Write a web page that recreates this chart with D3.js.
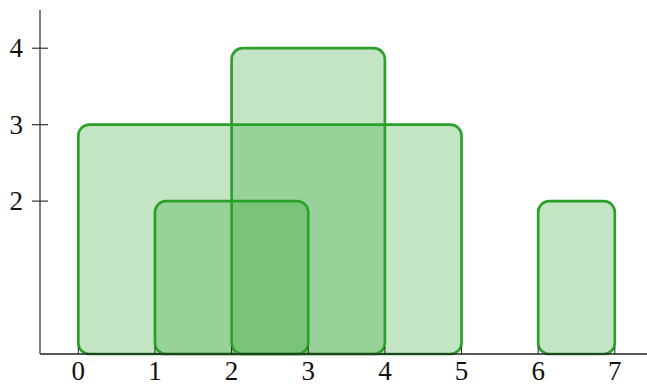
<!DOCTYPE html>
<html>
<head>
<meta charset="utf-8">
<script src="https://cdn.jsdelivr.net/npm/d3@7"></script>
<style>
  html, body { margin: 0; padding: 0; background: #fff; }
  svg { display: block; }
</style>
</head>
<body>
<svg id="chart" width="647" height="385"></svg>
<script>
// Interval bars: each spans [start, end] on x and rises to its height
const starts  = [0, 1, 2, 6];
const ends    = [5, 3, 4, 7];
const heights = [3, 2, 4, 2];
const xTicks = [0, 1, 2, 3, 4, 5, 6, 7];
const yTicks = [2, 3, 4];

const svg = d3.select("#chart");
const FONT = "'Liberation Serif', 'DejaVu Serif', serif";

const x = d3.scaleLinear().domain([-0.5, 7.42]).range([40, 647]);
const y = d3.scaleLinear().domain([0, 4.5]).range([354, 10]);

const green = "#2ca02c";

// Bars
const bars = starts.map((s, i) => ({ s, e: ends[i], h: heights[i] }));
svg.append("g").selectAll("rect")
  .data(bars)
  .join("rect")
  .attr("x", d => x(d.s))
  .attr("y", d => y(d.h))
  .attr("width", d => x(d.e) - x(d.s))
  .attr("height", d => y(0) - y(d.h))
  .attr("rx", 11).attr("ry", 11)
  .attr("fill", green).attr("fill-opacity", 0.28)
  .attr("stroke", green).attr("stroke-width", 2.7);

// Axes
const ax = svg.append("g");
ax.append("line")
  .attr("x1", x(-0.5)).attr("x2", 647)
  .attr("y1", y(0)).attr("y2", y(0))
  .attr("stroke", "#222").attr("stroke-width", 1.3);
ax.append("line")
  .attr("x1", x(-0.5)).attr("x2", x(-0.5))
  .attr("y1", y(0)).attr("y2", y(4.5))
  .attr("stroke", "#555").attr("stroke-width", 1.5);

ax.selectAll(".xt").data(xTicks).join("line")
  .attr("class", "xt")
  .attr("x1", d => x(d)).attr("x2", d => x(d))
  .attr("y1", y(0)).attr("y2", y(0) - 7)
  .attr("stroke", "#222").attr("stroke-width", 1);
ax.selectAll(".xl").data(xTicks).join("text")
  .attr("font-family", FONT).attr("font-size", 27).attr("fill", "#111")
  .attr("x", d => x(d)).attr("y", 380)
  .attr("text-anchor", "middle")
  .text(d => d);

ax.selectAll(".yt").data(yTicks).join("line")
  .attr("class", "yt")
  .attr("x1", x(-0.5) - 8).attr("x2", x(-0.5) + 8)
  .attr("y1", d => y(d)).attr("y2", d => y(d))
  .attr("stroke", "#333").attr("stroke-width", 1.2);
ax.selectAll(".yl").data(yTicks).join("text")
  .attr("font-family", FONT).attr("font-size", 27).attr("fill", "#111")
  .attr("x", 23).attr("y", d => y(d))
  .attr("dy", "0.34em")
  .attr("text-anchor", "end")
  .text(d => d);
</script>
</body>
</html>
